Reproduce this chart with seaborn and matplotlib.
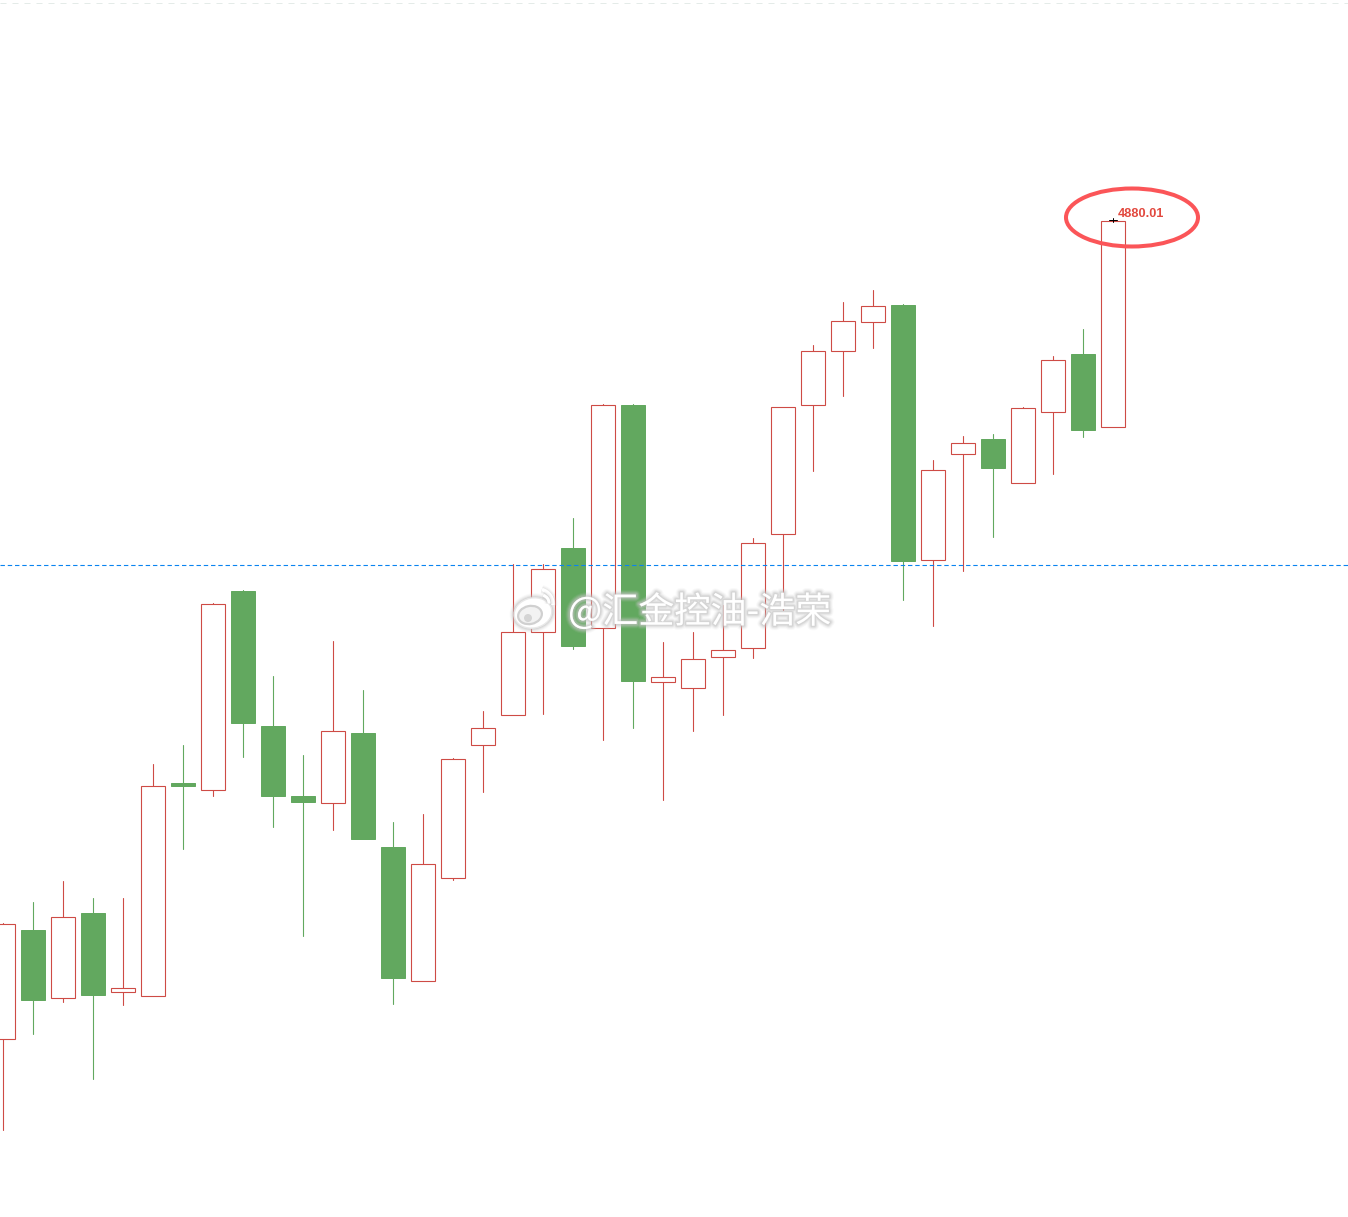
import matplotlib
matplotlib.use("Agg")
import matplotlib.pyplot as plt
import matplotlib.patheffects as pe
from matplotlib.patches import Ellipse, Arc
import numpy as np
import pandas as pd
import seaborn as sns

sns.set_theme(style="white")
plt.rcParams['font.family'] = ['Noto Sans CJK SC', 'DejaVu Sans']

# prices (price axis is hidden, peak = 4880.01)
body_top = [4176,4170,4183,4187,4112,4314,4317,4496,4509,4374,4304,4369,4367,4253,4236,4341,4372,4468,4531,4552,4695,4695,4423.5,4441,4450.5,4557,4693,4749,4779,4794,4795,4630,4657,4661,4692,4740,4746,4879]
body_bot = [4061,4100,4102,4105,4108,4104,4314,4310,4377,4304,4298,4297,4261,4122,4119,4222,4355,4385,4468,4454,4472,4419,4418,4412,4443,4452,4566,4695,4749,4778,4539,4540,4646,4632,4617,4688,4670,4673]
high = [4177,4198,4219,4202,4202,4336,4355,4497,4510,4424,4345,4459,4410,4278,4286,4342,4389,4536,4536,4582,4696,4696,4458,4468,4495,4562,4693,4755,4798,4810,4796,4640,4664,4666,4693,4744,4771,4880.01]
low = [3970,4066,4098,4021,4095,4104,4251,4304,4343,4273,4164,4270,4261,4096,4119,4220,4308,4385,4386,4451,4360,4372,4300,4369,4385,4442,4490,4629,4704,4752,4500,4474,4529,4563,4617,4626,4663,4673]
is_down = [0,1,0,1,0,0,1,0,1,1,1,0,1,1,0,0,0,0,0,1,0,1,0,0,0,0,0,0,0,0,1,0,0,1,0,0,1,0]
ref_price = 4535
peak_label = "4880.01"
watermark = "@汇金控油-浩荣"

RED = "#CE4B45"
GREEN = "#62A85F"
PX = 0.72  # one pixel in points at dpi 100

fig = plt.figure(figsize=(13.48, 12.17), dpi=100)
ax = fig.add_axes([0, 0, 1, 1])
pos = np.arange(len(high))
down = np.array(is_down, bool)

wicks = pd.DataFrame({
    "i": np.repeat(pos, 2),
    "price": np.ravel(np.column_stack([low, high])),
    "kind": np.repeat(np.where(down, "down", "up"), 2),
})
sns.lineplot(data=wicks, x="i", y="price", units="i", estimator=None, hue="kind",
             palette={"down": GREEN, "up": RED}, linewidth=PX * 1.1, legend=False, ax=ax, sort=False, zorder=2)

top = np.array(body_top, float)
bot = np.array(body_bot, float)
ax.bar(pos[~down], (top - bot)[~down], bottom=bot[~down], width=0.8, facecolor="white",
       edgecolor=RED, linewidth=PX * 1.1, zorder=3)
ax.bar(pos[down], (top - bot)[down], bottom=bot[down], width=0.81, facecolor=GREEN,
       edgecolor=GREEN, linewidth=PX, zorder=3)

ax.axhline(ref_price, color="#0A84F0", linewidth=PX * 1.1, linestyle=(0, (4, 2.6)), zorder=4)

ax.set_xlim(-0.1, 44.83)
ax.set_ylim(3883, 5100)
ax.axis("off")

# faint dotted frame line at the very top
fig.add_artist(plt.Line2D([0, 1], [1 - 2.5 / 1217] * 2, color="#E4EBE8", lw=PX, ls=(0, (6, 6))))

# pixel-overlay axes for annotation and watermark
ov = fig.add_axes([0, 0, 1, 1], facecolor="none")
ov.set_xlim(0, 1348)
ov.set_ylim(1217, 0)
ov.axis("off")

ov.add_patch(Ellipse((1132, 217.5), 132, 58, fill=False, edgecolor="#FB5558", lw=2.9, zorder=6))
ov.text(1118, 214, peak_label, family="Liberation Sans", weight="bold", fontsize=9.2,
        color="#E2493F", ha="left", va="center", zorder=6)
ov.plot([1109, 1117], [220, 220], color="black", lw=PX, zorder=6)
ov.plot([1113, 1113], [218, 222], color="black", lw=PX, zorder=6)

# soft grey halo around white watermark shapes
soft = [pe.Stroke(linewidth=6.5, foreground="#C8C8C8", alpha=0.10),
        pe.Stroke(linewidth=5, foreground="#C8C8C8", alpha=0.18),
        pe.Stroke(linewidth=3.5, foreground="#C4C4C4", alpha=0.28),
        pe.Stroke(linewidth=2, foreground="#C0C0C0", alpha=0.4),
        pe.Normal()]
ov.text(568, 612, watermark, fontsize=26, color="white", ha="left", va="center",
        path_effects=soft, zorder=8)
ov.add_patch(Ellipse((533, 613), 38, 30, angle=-12, facecolor="white", edgecolor="#E8E8E8", lw=1,
                     path_effects=soft, zorder=8))
ov.add_patch(Ellipse((530, 615), 24, 18, angle=-12, facecolor="#F2F2F2", edgecolor="#D0D0D0", lw=1.6, zorder=8))
ov.add_patch(Ellipse((528, 618), 8, 8, facecolor="#D4D4D4", edgecolor="none", zorder=8))
ov.add_patch(Arc((538, 604), 30, 30, theta1=-75, theta2=5, edgecolor="white", lw=2.6,
                 path_effects=soft, zorder=8))
ov.add_patch(Arc((541, 603), 16, 16, theta1=-75, theta2=5, edgecolor="white", lw=2.2,
                 path_effects=soft, zorder=8))

fig.savefig("out.png", dpi=100)
